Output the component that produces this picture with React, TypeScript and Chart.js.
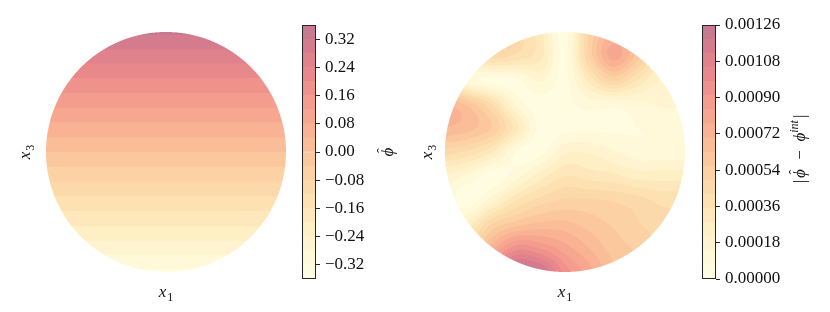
import { useEffect, useRef } from "react";
import { Chart, registerables } from "chart.js";

Chart.register(...registerables);

// ---------- data ----------
// sample positions of the read-off field grids
const GRID_X1 = [-1, -0.8, -0.6, -0.4, -0.2, 0, 0.2, 0.4, 0.6, 0.8, 1];
const GRID_X3 = [1, 0.8, 0.6, 0.4, 0.2, 0, -0.2, -0.4, -0.6, -0.8, -1];

// left panel: phi-hat, constant along x1, one value per x3 row
const PHI_ROWS = [0.325, 0.26, 0.195, 0.13, 0.065, 0, -0.065, -0.13, -0.195, -0.26, -0.325];
const PHI_LEVELS = [
  -0.36, -0.32, -0.28, -0.24, -0.2, -0.16, -0.12, -0.08, -0.04, 0,
  0.04, 0.08, 0.12, 0.16, 0.2, 0.24, 0.28, 0.32, 0.36,
];
const PHI_TICKS = [-0.32, -0.24, -0.16, -0.08, 0, 0.08, 0.16, 0.24, 0.32];

// right panel: |phi-hat - phi_int|, in units of 1e-4, rows x3 = 1 .. -1, cols x1 = -1 .. 1
const ERR_UNIT = 1e-4;
const ERR_ROW_P10 = [4, 4, 4.5, 4.5, 3, 0.4, 5, 7, 6, 4, 3];
const ERR_ROW_P08 = [4, 4, 4.5, 4, 3, 0.6, 5, 8, 6, 3, 2.5];
const ERR_ROW_P06 = [3, 1, 0.5, 0.6, 1.5, 0.5, 3, 5, 3.5, 2, 2];
const ERR_ROW_P04 = [7, 6, 4, 1.2, 0.3, 0.5, 1, 1, 1.2, 1.5, 1.5];
const ERR_ROW_P02 = [7, 6.5, 5.5, 3, 0.4, 0.5, 0.6, 0.6, 0.7, 0.8, 1];
const ERR_ROW_000 = [4.5, 4, 2.8, 0.6, 0.5, 2, 2, 1.5, 1, 1, 1];
const ERR_ROW_M02 = [2, 1.2, 0.3, 1.2, 2.5, 3.5, 3.2, 3, 2.5, 2.5, 2.5];
const ERR_ROW_M04 = [1, 0.3, 1.8, 3.5, 4.5, 5, 5, 4.8, 4.5, 4, 4];
const ERR_ROW_M06 = [1.5, 2.5, 5, 6, 6.5, 6.5, 6, 5.5, 5, 4.5, 4.5];
const ERR_ROW_M08 = [3, 5, 7.5, 9.5, 9, 8, 7, 6, 5.5, 5, 5];
const ERR_ROW_M10 = [5, 7.5, 10.5, 12.6, 12, 9.5, 8, 6.5, 6, 5.5, 5.5];
const ERR_LEVELS = [
  0, 0.00007, 0.00014, 0.00021, 0.00028, 0.00035, 0.00042, 0.00049, 0.00056, 0.00063,
  0.0007, 0.00077, 0.00084, 0.00091, 0.00098, 0.00105, 0.00112, 0.00119, 0.00126,
];
const ERR_TICKS = [0, 0.00018, 0.00036, 0.00054, 0.00072, 0.0009, 0.00108, 0.00126];

// ---------- style ----------
const CMAP_STOPS: [number, number[]][] = [
  [0.0, [255, 253, 230]],
  [0.1, [255, 248, 214]],
  [0.2, [254, 238, 195]],
  [0.3, [253, 226, 178]],
  [0.4, [252, 212, 165]],
  [0.5, [251, 195, 154]],
  [0.6, [249, 175, 146]],
  [0.7, [244, 155, 141]],
  [0.8, [234, 137, 138]],
  [0.9, [216, 125, 140]],
  [1.0, [193, 119, 146]],
];
const SERIF = '"Liberation Serif", "DejaVu Serif", serif';
const TEXT = "#111";

function cmap(t: number): number[] {
  for (let i = 0; i < CMAP_STOPS.length - 1; i++) {
    const [t0, c0] = CMAP_STOPS[i];
    const [t1, c1] = CMAP_STOPS[i + 1];
    if (t <= t1 || i === CMAP_STOPS.length - 2) {
      const f = Math.max(0, Math.min(1, (t - t0) / (t1 - t0)));
      return c0.map((c, k) => Math.round(c + (c1[k] - c) * f));
    }
  }
  return CMAP_STOPS[0][1];
}
function bandColors(levels: number[]): number[][] {
  const n = levels.length - 1;
  return Array.from({ length: n }, (_, i) => cmap((i + 0.5) / n));
}
const rgb = (c: number[]) => `rgb(${c[0]},${c[1]},${c[2]})`;

// ---------- field sampling (Catmull-Rom over the read grid) ----------
function cubic(p0: number, p1: number, p2: number, p3: number, t: number) {
  return p1 + 0.5 * t * (p2 - p0 + t * (2 * p0 - 5 * p1 + 4 * p2 - p3 + t * (3 * (p1 - p2) + p3 - p0)));
}
function sampleGrid(grid: number[][], u: number, v: number) {
  const nx = GRID_X1.length, ny = GRID_X3.length;
  const fx = (u - GRID_X1[0]) / (GRID_X1[1] - GRID_X1[0]);
  const fy = (v - GRID_X3[0]) / (GRID_X3[1] - GRID_X3[0]);
  const ix = Math.min(nx - 2, Math.max(0, Math.floor(fx)));
  const iy = Math.min(ny - 2, Math.max(0, Math.floor(fy)));
  const tx = fx - ix, ty = fy - iy;
  const cl = (i: number, n: number) => Math.min(n - 1, Math.max(0, i));
  const col: number[] = [];
  for (let j = -1; j <= 2; j++) {
    const row = grid[cl(iy + j, ny)];
    col.push(cubic(row[cl(ix - 1, nx)], row[cl(ix, nx)], row[cl(ix + 1, nx)], row[cl(ix + 2, nx)], tx));
  }
  return cubic(col[0], col[1], col[2], col[3], ty);
}

function fieldPlugin(grid: number[][], levels: number[]) {
  const colors = bandColors(levels);
  return {
    id: "diskField",
    beforeDatasetsDraw(chart: any) {
      const { ctx } = chart;
      const xs = chart.scales.x, ys = chart.scales.y;
      const cx = xs.getPixelForValue(0), cy = ys.getPixelForValue(0);
      const R = xs.getPixelForValue(1) - cx;
      const x0 = Math.floor(cx - R - 1), y0 = Math.floor(cy - R - 1);
      const W = Math.ceil(2 * R + 3), H = W;
      const img = ctx.createImageData(W, H);
      const S = 3;
      const nb = levels.length - 1;
      for (let py = 0; py < H; py++) {
        for (let px = 0; px < W; px++) {
          let r = 0, g = 0, b = 0, a = 0;
          for (let sy = 0; sy < S; sy++) {
            for (let sx = 0; sx < S; sx++) {
              const X = x0 + px + (sx + 0.5) / S;
              const Y = y0 + py + (sy + 0.5) / S;
              if ((X - cx) * (X - cx) + (Y - cy) * (Y - cy) > R * R) continue;
              const u = xs.getValueForPixel(X), v = ys.getValueForPixel(Y);
              const val = sampleGrid(grid, u, v);
              let k = 0;
              while (k < nb - 1 && val >= levels[k + 1]) k++;
              const c = colors[k];
              r += c[0]; g += c[1]; b += c[2]; a++;
            }
          }
          if (a > 0) {
            const i = (py * W + px) * 4;
            img.data[i] = r / a;
            img.data[i + 1] = g / a;
            img.data[i + 2] = b / a;
            img.data[i + 3] = Math.round((255 * a) / (S * S));
          }
        }
      }
      ctx.putImageData(img, x0, y0);
    },
  };
}

// ---------- text helpers ----------
function drawSubLabel(ctx: CanvasRenderingContext2D, base: string, sub: string) {
  ctx.font = `italic 17px ${SERIF}`;
  const wb = ctx.measureText(base).width;
  ctx.font = `12px ${SERIF}`;
  const ws = ctx.measureText(sub).width;
  const x = -(wb + ws + 1) / 2;
  ctx.fillStyle = TEXT;
  ctx.textBaseline = "alphabetic";
  ctx.textAlign = "left";
  ctx.font = `italic 17px ${SERIF}`;
  ctx.fillText(base, x, 0);
  ctx.font = `12px ${SERIF}`;
  ctx.fillText(sub, x + wb + 1, 3.5);
}

type Seg = { t: string; font: string; dy?: number; hat?: boolean; gap?: number };
function drawSegments(ctx: CanvasRenderingContext2D, segs: Seg[]) {
  const widths = segs.map((s) => {
    ctx.font = s.font;
    return ctx.measureText(s.t).width + (s.gap || 0);
  });
  const total = widths.reduce((p, c) => p + c, 0);
  let x = -total / 2;
  ctx.fillStyle = TEXT;
  ctx.textBaseline = "alphabetic";
  ctx.textAlign = "left";
  segs.forEach((s, i) => {
    ctx.font = s.font;
    ctx.fillText(s.t, x, s.dy || 0);
    if (s.hat) {
      const w = ctx.measureText(s.t).width;
      ctx.font = `15px ${SERIF}`;
      ctx.textAlign = "center";
      ctx.fillText("\u02C6", x + w / 2 + 1.5, -6);
      ctx.textAlign = "left";
    }
    x += widths[i];
  });
}

function axisLabelPlugin(x3Offset: number) {
  return {
    id: "axisLabels",
    afterDraw(chart: any) {
      const { ctx, chartArea } = chart;
      const cx = (chartArea.left + chartArea.right) / 2;
      const cy = (chartArea.top + chartArea.bottom) / 2;
      ctx.save();
      ctx.translate(cx, chartArea.bottom + 25);
      drawSubLabel(ctx, "x", "1");
      ctx.restore();
      ctx.save();
      ctx.translate(chartArea.left - x3Offset, cy);
      ctx.rotate(-Math.PI / 2);
      drawSubLabel(ctx, "x", "3");
      ctx.restore();
    },
  };
}

function colorbarPlugin(segs: Seg[], labelOffset: number, centerShift: number) {
  return {
    id: "cbFrame",
    afterDraw(chart: any) {
      const { ctx, chartArea } = chart;
      ctx.save();
      ctx.strokeStyle = "#262626";
      ctx.lineWidth = 1;
      ctx.strokeRect(
        Math.round(chartArea.left) + 0.5,
        Math.round(chartArea.top) + 0.5,
        Math.round(chartArea.right - chartArea.left) - 1,
        Math.round(chartArea.bottom - chartArea.top) - 1
      );
      ctx.restore();
      ctx.save();
      ctx.translate(chartArea.right + labelOffset, (chartArea.top + chartArea.bottom) / 2 + centerShift);
      ctx.rotate(-Math.PI / 2);
      drawSegments(ctx, segs);
      ctx.restore();
    },
  };
}

// ---------- chart configs ----------
function diskConfig(grid: number[][], levels: number[], pad: any, x3Offset: number) {
  return {
    type: "scatter",
    data: { datasets: [{ data: [] as any[], pointRadius: 0 }] },
    options: {
      animation: false,
      responsive: false,
      devicePixelRatio: 1,
      layout: { padding: pad },
      plugins: { legend: { display: false }, tooltip: { enabled: false } },
      scales: {
        x: { type: "linear", min: -1, max: 1, display: false },
        y: { type: "linear", min: -1, max: 1, display: false },
      },
    },
    plugins: [fieldPlugin(grid, levels), axisLabelPlugin(x3Offset)],
  };
}

function colorbarConfig(
  levels: number[],
  ticks: number[],
  fmt: (v: number) => string,
  axisWidth: number,
  segs: Seg[],
  labelOffset: number,
  centerShift: number
) {
  const colors = bandColors(levels);
  return {
    type: "bar",
    data: {
      labels: [""],
      datasets: colors.map((c, i) => ({
        data: [[levels[i], levels[i + 1]]],
        backgroundColor: rgb(c),
        borderWidth: 0,
        barPercentage: 1,
        categoryPercentage: 1,
        grouped: false,
      })),
    },
    options: {
      animation: false,
      responsive: false,
      devicePixelRatio: 1,
      layout: { padding: { left: 13, right: 0, top: 25, bottom: 33 } },
      plugins: { legend: { display: false }, tooltip: { enabled: false } },
      scales: {
        x: { display: false },
        y: {
          position: "right",
          min: levels[0],
          max: levels[levels.length - 1],
          afterBuildTicks: (s: any) => {
            s.ticks = ticks.map((v) => ({ value: v }));
          },
          afterFit: (s: any) => {
            s.width = axisWidth;
          },
          grid: { drawOnChartArea: false, tickLength: 4, tickColor: "#262626", tickWidth: 1 },
          border: { display: false },
          ticks: {
            padding: 5,
            color: TEXT,
            autoSkip: false,
            maxRotation: 0,
            font: { family: SERIF, size: 17 },
            callback: (v: any) => fmt(Number(v)),
          },
        },
      },
    },
    plugins: [colorbarPlugin(segs, labelOffset, centerShift)],
  };
}

const PHI_GRID = GRID_X3.map((_, r) => GRID_X1.map(() => PHI_ROWS[r]));
const ERR_GRID = [
  ERR_ROW_P10, ERR_ROW_P08, ERR_ROW_P06, ERR_ROW_P04, ERR_ROW_P02, ERR_ROW_000,
  ERR_ROW_M02, ERR_ROW_M04, ERR_ROW_M06, ERR_ROW_M08, ERR_ROW_M10,
].map((row) => row.map((v) => v * ERR_UNIT));

const fmtPhi = (v: number) => (v < -1e-9 ? "\u2212" : "") + Math.abs(v).toFixed(2);
const fmtErr = (v: number) => Math.abs(v).toFixed(5);

const IT = `italic 17px ${SERIF}`;
const UP = `17px ${SERIF}`;
const PHI_LABEL: Seg[] = [{ t: "\u03D5", font: IT, hat: true }];
const ERR_LABEL: Seg[] = [
  { t: "|", font: UP, gap: 2 },
  { t: "\u03D5", font: IT, hat: true, gap: 1 },
  { t: "  \u2212  ", font: UP },
  { t: "\u03D5", font: IT },
  { t: "int", font: `italic 12px ${SERIF}`, dy: -7, gap: 2 },
  { t: "|", font: UP },
];

function ChartCanvas({ make, left, width }: { make: () => any; left: number; width: number }) {
  const ref = useRef<HTMLCanvasElement | null>(null);
  useEffect(() => {
    const chart = new Chart(ref.current as HTMLCanvasElement, make());
    return () => chart.destroy();
  }, []);
  return (
    <canvas
      ref={ref}
      width={width}
      height={312}
      style={{ position: "absolute", left, top: 0, width, height: 312, display: "block" }}
    />
  );
}

export default function App() {
  return (
    <div style={{ position: "absolute", left: 0, top: 0, width: 830, height: 312, background: "#fff", overflow: "hidden" }}>
      <ChartCanvas
        left={0}
        width={289}
        make={() => diskConfig(PHI_GRID, PHI_LEVELS, { left: 46, right: 3, top: 32, bottom: 40 }, 16)}
      />
      <ChartCanvas
        left={289}
        width={125}
        make={() => colorbarConfig(PHI_LEVELS, PHI_TICKS, fmtPhi, 98, PHI_LABEL, 77, 0)}
      />
      <ChartCanvas
        left={415}
        width={274}
        make={() => diskConfig(ERR_GRID, ERR_LEVELS, { left: 30, right: 4, top: 32, bottom: 40 }, 13)}
      />
      <ChartCanvas
        left={689}
        width={141}
        make={() => colorbarConfig(ERR_LEVELS, ERR_TICKS, fmtErr, 114, ERR_LABEL, 89, -3)}
      />
    </div>
  );
}
